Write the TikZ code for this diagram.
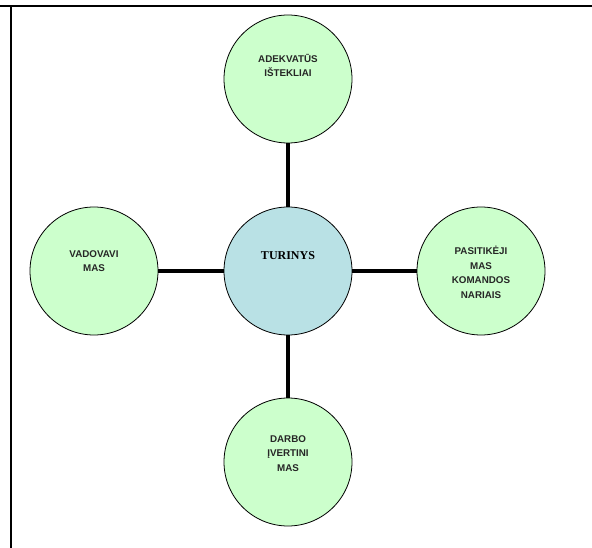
\documentclass[tikz,border=0pt]{standalone}
\usepackage{fontspec}
\setmainfont{Liberation Sans}
\newfontfamily\hubfont{Liberation Serif}

\definecolor{leaf}{HTML}{CCFFCC}
\definecolor{hubblue}{HTML}{B9E1E5}

\tikzset{
    topic/.style={circle, draw=black, line width=0.8pt, fill=leaf, minimum size=128pt, inner sep=0pt},
    hub/.style={topic, fill=hubblue},
    caption/.style={align=center, font=\fontsize{9.8}{14.5}\selectfont\bfseries, text=black!85},
    spoke/.style={line width=3.6pt}
}

\begin{document}
\begin{tikzpicture}[x=1pt,y=-1pt]
        \useasboundingbox (0,0) rectangle (592,548);

        % Table rules round the figure
        \draw[line width=1.5pt] (0,6) -- (592,6);
        \draw[line width=2pt] (11,6) -- (11,548);

        % Draw the middle circle and the four around it
        \node[hub] (turinys) at (288,271) {};
        \node[topic] (istekliai) at (288,79) {};
        \node[topic] (vadovavimas) at (94,271) {};
        \node[topic] (pasitikejimas) at (481,271) {};
        \node[topic] (vertinimas) at (288,462) {};

        % Spokes from the middle
        \draw[spoke] (istekliai) -- (turinys);
        \draw[spoke] (vadovavimas) -- (turinys);
        \draw[spoke] (pasitikejimas) -- (turinys);
        \draw[spoke] (vertinimas) -- (turinys);

        % Texts, set a little above the centres
        \node[font=\hubfont\fontsize{12}{14}\selectfont\bfseries] (turinys-txt) at ([yshift=15pt]turinys.center) {TURINYS};
        \node[caption] (istekliai-txt) at ([yshift=13.5pt]istekliai.center) {ADEKVATŪS\\IŠTEKLIAI};
        \node[caption] (vadovavimas-txt) at ([yshift=10pt]vadovavimas.center) {VADOVAVI\\MAS};
        \node[caption] (pasitikejimas-txt) at ([yshift=-1.5pt]pasitikejimas.center) {PASITIKĖJI\\MAS\\KOMANDOS\\NARIAIS};
        \node[caption] (vertinimas-txt) at ([yshift=8.5pt]vertinimas.center) {DARBO\\ĮVERTINI\\MAS};

    \end{tikzpicture}
\end{document}
